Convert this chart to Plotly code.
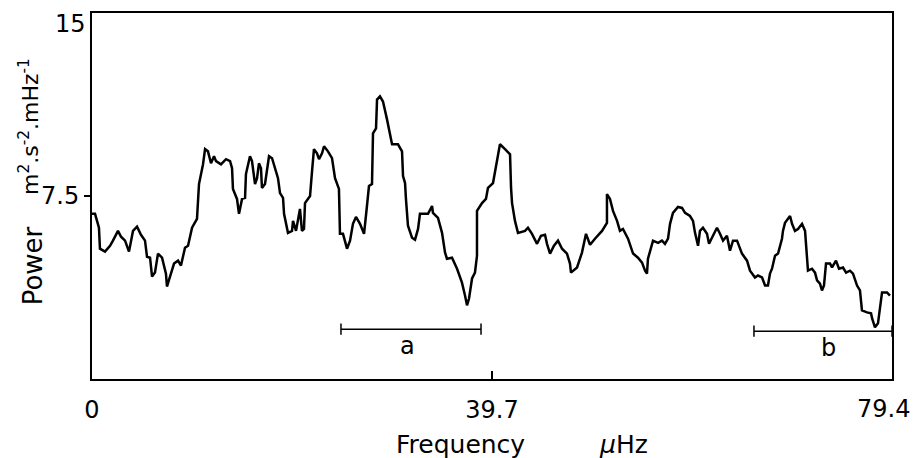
import plotly.graph_objects as go

# Frequency (µHz) and power values
freq = [0, 0.30, 0.69, 0.79, 1.29, 1.79, 2.08, 2.58, 2.88, 3.28, 3.67, 4.07, 4.47, 4.86, 5.26, 5.46, 5.76, 5.96, 6.25, 6.55,
        6.95, 7.34, 7.44, 7.74, 8.14, 8.54, 8.83, 9.23, 9.53, 9.93, 10.42, 10.62, 10.82, 11.02, 11.22, 11.51, 11.81, 12.11, 12.31, 12.80,
        13.30, 13.70, 13.90, 13.99, 14.39, 14.59, 14.89, 15.19, 15.28, 15.48, 15.68, 15.88, 16.18, 16.38, 16.57, 16.77, 16.87, 17.17, 17.37, 17.57,
        17.87, 18.16, 18.46, 18.66, 18.96, 19.06, 19.35, 19.45, 19.85, 19.95, 20.25, 20.45, 20.64, 20.84, 21.04, 21.14, 21.64, 21.84, 22.03, 22.33,
        22.53, 22.83, 23.03, 23.42, 23.82, 24.12, 24.51, 24.61, 24.91, 25.31, 25.61, 25.90, 26.20, 26.60, 27.00, 27.29, 27.49, 27.79, 27.89, 28.19,
        28.29, 28.58, 28.88, 29.28, 29.58, 29.78, 30.37, 30.77, 30.87, 31.07, 31.16, 31.36, 31.76, 32.06, 32.36, 32.55, 33.35, 33.75, 33.84, 34.34,
        34.74, 35.04, 35.23, 35.73, 36.23, 36.72, 37.02, 37.22, 37.42, 37.72, 38.01, 38.21, 38.21, 38.71, 39.10, 39.30, 39.80, 40.49, 40.99, 41.49,
        41.59, 41.69, 41.98, 42.28, 42.98, 43.27, 43.67, 44.17, 44.56, 44.96, 45.16, 45.46, 45.85, 46.25, 46.65, 47.14, 47.44, 47.54, 48.14, 48.63,
        49.03, 49.43, 49.92, 50.62, 51.11, 51.11, 51.41, 51.71, 52.11, 52.40, 52.70, 53.20, 53.70, 54.19, 54.59, 54.89, 55.08, 55.18, 55.68, 56.18,
        56.57, 56.87, 57.17, 57.37, 57.66, 58.16, 58.56, 58.86, 59.35, 59.65, 59.85, 60.15, 60.34, 60.64, 61.04, 61.24, 61.63, 62.03, 62.33, 62.63,
        63.02, 63.32, 63.62, 64.02, 64.51, 65.01, 65.31, 65.80, 66.10, 66.50, 66.80, 67.09, 67.29, 67.49, 67.79, 68.09, 68.48, 68.58, 68.78, 69.08,
        69.28, 69.48, 69.77, 70.07, 70.47, 70.77, 70.96, 71.06, 71.46, 71.76, 71.96, 72.25, 72.45, 72.65, 72.85, 73.25, 73.45, 73.84, 74.14, 74.54,
        74.84, 75.23, 75.53, 75.93, 76.22, 76.42, 76.92, 77.32, 77.42, 77.71, 78.01, 78.21, 78.41, 78.90, 79.20]
power = [6.77, 6.77, 6.20, 5.34, 5.22, 5.46, 5.67, 6.07, 5.83, 5.67, 5.22, 6.07, 6.24, 5.91, 5.67, 5.01, 4.97, 4.20, 4.36, 5.14,
         4.97, 4.32, 3.79, 4.16, 4.73, 4.85, 4.65, 5.38, 5.46, 6.20, 6.56, 7.99, 8.40, 8.80, 9.42, 9.33, 8.84, 9.13, 8.93, 8.80,
         9.01, 8.93, 8.64, 7.79, 7.38, 6.77, 7.38, 7.42, 8.40, 8.80, 9.13, 8.93, 7.99, 8.23, 8.84, 8.64, 7.83, 7.99, 8.64, 9.13,
         9.05, 8.64, 8.23, 7.62, 7.42, 6.77, 6.20, 5.99, 6.07, 6.48, 6.07, 6.48, 6.97, 6.07, 6.15, 7.21, 7.50, 8.52, 9.42, 9.25,
         9.01, 9.25, 9.54, 9.33, 9.05, 8.23, 7.79, 5.95, 5.95, 5.34, 5.67, 6.36, 6.64, 6.36, 5.95, 7.09, 7.91, 7.99, 10.07, 10.27,
         11.45, 11.58, 11.37, 10.64, 9.95, 9.62, 9.62, 9.33, 8.32, 8.03, 7.38, 6.28, 5.79, 5.71, 6.15, 6.77, 6.77, 7.09, 6.81, 6.60,
         5.99, 5.18, 4.93, 4.97, 4.52, 3.95, 3.42, 3.02, 3.30, 4.12, 4.36, 5.05, 6.89, 7.21, 7.38, 7.83, 8.03, 9.62, 9.42, 9.21,
         7.83, 7.21, 6.48, 5.99, 6.07, 6.20, 5.95, 5.54, 5.87, 5.91, 5.54, 5.14, 5.46, 5.67, 5.34, 5.14, 4.73, 4.36, 4.57, 5.18,
         5.95, 5.50, 5.75, 6.07, 6.40, 7.58, 7.38, 6.89, 6.48, 6.07, 6.15, 5.75, 5.14, 4.97, 4.77, 4.44, 4.32, 4.93, 5.67, 5.58,
         5.67, 5.54, 5.75, 6.36, 6.81, 7.05, 7.01, 6.81, 6.68, 6.48, 5.99, 5.46, 6.07, 6.20, 5.95, 5.54, 5.87, 6.20, 5.95, 5.67,
         5.87, 5.26, 5.67, 5.67, 5.14, 4.85, 4.44, 4.16, 4.24, 4.16, 3.83, 3.83, 4.32, 4.52, 5.05, 5.14, 5.75, 6.07, 6.40, 6.56,
         6.68, 6.36, 6.07, 6.15, 6.36, 6.07, 5.05, 4.44, 4.52, 4.36, 4.04, 3.91, 3.63, 3.83, 4.73, 4.73, 4.57, 4.85, 4.52, 4.57,
         4.36, 4.44, 4.32, 3.83, 3.63, 2.81, 2.73, 2.69, 2.49, 2.12, 2.28, 2.89, 3.55, 3.55, 3.42]

# Interval bars "a" and "b"
a_freq = [24.71, 38.61]
a_level = [2.04, 2.04]
b_freq = [65.70, 79.4]
b_level = [1.96, 1.96]

x_tickvals = [0, 39.7, 79.4]
x_ticktext = ["0", "39.7", "79.4"]
y_tickvals = [7.5]
y_ticktext = ["7.5"]

FONT = "DejaVu Sans"

fig = go.Figure()
fig.add_trace(go.Scatter(x=freq, y=power, mode="lines",
                         line=dict(color="black", width=2.5), hoverinfo="skip"))
for fx, fy in ((a_freq, a_level), (b_freq, b_level)):
    fig.add_trace(go.Scatter(x=fx, y=fy, mode="lines+markers",
                             line=dict(color="black", width=1.5),
                             marker=dict(symbol="line-ns-open", size=8,
                                         line=dict(color="black", width=1.5)),
                             hoverinfo="skip"))

fig.update_layout(
    width=914, height=458,
    margin=dict(l=92, r=22, t=11, b=79),
    paper_bgcolor="white", plot_bgcolor="white",
    showlegend=False,
    font=dict(family=FONT, color="black", size=24),
    xaxis=dict(range=[0, 79.4], tickvals=x_tickvals[:2], ticktext=x_ticktext[:2],
               ticks="inside", ticklen=8, tickwidth=1.5, tickcolor="black",
               showline=True, linecolor="black", linewidth=2, mirror=True,
               showgrid=False, zeroline=False, ticklabelstandoff=8,
               tickfont=dict(size=24, family=FONT)),
    yaxis=dict(range=[0, 15], tickvals=y_tickvals, ticktext=y_ticktext,
               ticks="outside", ticklen=6, tickwidth=1.5, tickcolor="black",
               showline=True, linecolor="black", linewidth=2, mirror=True,
               showgrid=False, zeroline=False,
               tickfont=dict(size=24, family=FONT)),
)

ann = [
    dict(text=x_ticktext[2], xref="x", x=x_tickvals[2], xanchor="right", xshift=20,
         yref="paper", y=0, yanchor="top", yshift=-14, font=dict(size=24)),
    dict(text="15", xref="paper", x=0, xanchor="right", xshift=-4,
         yref="y", y=15, yanchor="middle", yshift=-11, font=dict(size=24)),
    dict(text="a", xref="x", x=31.3, yref="y", y=a_level[0], yanchor="top",
         yshift=-1, font=dict(size=24)),
    dict(text="b", xref="x", x=73.1, yref="y", y=b_level[0], yanchor="top",
         yshift=-1, font=dict(size=24)),
    dict(text="Frequency", xref="paper", x=0.46, xanchor="center",
         yref="paper", y=-0.135, yanchor="top", font=dict(size=25)),
    dict(text="<i>μ</i>Hz", xref="paper", x=0.664, xanchor="center",
         yref="paper", y=-0.135, yanchor="top", font=dict(size=25)),
    dict(text="Power", textangle=-90, xref="paper", x=-0.074, xanchor="center",
         yref="paper", y=0.31, yanchor="middle", font=dict(size=26)),
    dict(text="m<sup>2</sup>.s<sup>-2</sup>.mHz<sup>-1</sup>", textangle=-90,
         xref="paper", x=-0.078, xanchor="center",
         yref="paper", y=0.69, yanchor="middle", font=dict(size=22)),
]
fig.update_layout(annotations=[dict(showarrow=False, **a) for a in ann])

fig.write_html("out.html", config={"displayModeBar": False},
               post_script="document.body.style.margin='0';document.body.style.overflow='hidden';")
